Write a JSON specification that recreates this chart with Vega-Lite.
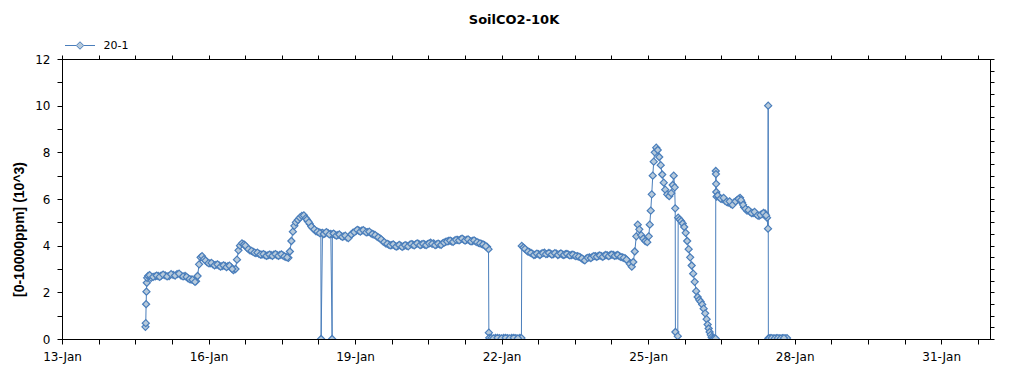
{
  "$schema": "https://vega.github.io/schema/vega-lite/v6.json",
  "width": 928,
  "height": 280,
  "autosize": "none",
  "padding": {"left": 62, "top": 59, "right": 34, "bottom": 36},
  "background": "white",
  "title": {"text": "SoilCO2-10K", "font": "DejaVu Sans", "fontSize": 13, "fontWeight": "bold", "color": "black", "anchor": "middle", "frame": "group", "dx": -12, "offset": 3},
  "config": {
    "view": {"stroke": "black", "strokeWidth": 1},
    "axis": {"domainColor": "black", "tickColor": "black", "labelColor": "black", "titleColor": "black", "labelFont": "DejaVu Sans", "labelFontSize": 12, "grid": false, "labelOverlap": false, "labelFlush": false}
  },
  "data": {"values": [
    {"t": "2020-01-14T17:00", "v": 0.52}, {"t": "2020-01-14T17:10", "v": 0.68}, {"t": "2020-01-14T17:20", "v": 1.49}, {"t": "2020-01-14T17:30", "v": 2.03}, {"t": "2020-01-14T17:40", "v": 2.41}, {"t": "2020-01-14T17:50", "v": 2.62},
    {"t": "2020-01-14T18:20", "v": 2.70}, {"t": "2020-01-14T19:48", "v": 2.62}, {"t": "2020-01-14T21:46", "v": 2.68}, {"t": "2020-01-14T23:14", "v": 2.70},
    {"t": "2020-01-15T00:43", "v": 2.72}, {"t": "2020-01-15T02:40", "v": 2.73}, {"t": "2020-01-15T04:38", "v": 2.70}, {"t": "2020-01-15T06:36", "v": 2.75}, {"t": "2020-01-15T08:33", "v": 2.78}, {"t": "2020-01-15T10:31", "v": 2.72}, {"t": "2020-01-15T12:29", "v": 2.70}, {"t": "2020-01-15T13:57", "v": 2.60}, {"t": "2020-01-15T15:25", "v": 2.55}, {"t": "2020-01-15T16:53", "v": 2.50}, {"t": "2020-01-15T17:52", "v": 2.48}, {"t": "2020-01-15T18:37", "v": 2.70}, {"t": "2020-01-15T19:21", "v": 3.20}, {"t": "2020-01-15T20:05", "v": 3.50}, {"t": "2020-01-15T20:49", "v": 3.55}, {"t": "2020-01-15T21:48", "v": 3.42}, {"t": "2020-01-15T23:16", "v": 3.30},
    {"t": "2020-01-16T00:44", "v": 3.24}, {"t": "2020-01-16T02:13", "v": 3.20}, {"t": "2020-01-16T03:41", "v": 3.18}, {"t": "2020-01-16T05:09", "v": 3.15}, {"t": "2020-01-16T06:38", "v": 3.12}, {"t": "2020-01-16T08:06", "v": 3.13}, {"t": "2020-01-16T09:34", "v": 3.12}, {"t": "2020-01-16T11:02", "v": 3.08}, {"t": "2020-01-16T12:16", "v": 2.95}, {"t": "2020-01-16T13:15", "v": 3.00}, {"t": "2020-01-16T13:59", "v": 3.40}, {"t": "2020-01-16T14:43", "v": 3.80}, {"t": "2020-01-16T15:28", "v": 4.00}, {"t": "2020-01-16T16:26", "v": 4.10}, {"t": "2020-01-16T17:25", "v": 4.05}, {"t": "2020-01-16T18:53", "v": 3.92}, {"t": "2020-01-16T20:22", "v": 3.80}, {"t": "2020-01-16T21:50", "v": 3.74}, {"t": "2020-01-16T23:18", "v": 3.68},
    {"t": "2020-01-17T00:47", "v": 3.65}, {"t": "2020-01-17T02:15", "v": 3.62}, {"t": "2020-01-17T03:43", "v": 3.60}, {"t": "2020-01-17T05:11", "v": 3.58}, {"t": "2020-01-17T06:40", "v": 3.60}, {"t": "2020-01-17T08:08", "v": 3.62}, {"t": "2020-01-17T09:36", "v": 3.60}, {"t": "2020-01-17T11:05", "v": 3.60}, {"t": "2020-01-17T12:33", "v": 3.58}, {"t": "2020-01-17T14:01", "v": 3.52}, {"t": "2020-01-17T15:15", "v": 3.48}, {"t": "2020-01-17T15:59", "v": 3.75}, {"t": "2020-01-17T16:43", "v": 4.20}, {"t": "2020-01-17T17:27", "v": 4.60}, {"t": "2020-01-17T18:11", "v": 4.85}, {"t": "2020-01-17T18:55", "v": 5.00}, {"t": "2020-01-17T19:54", "v": 5.10}, {"t": "2020-01-17T20:53", "v": 5.20}, {"t": "2020-01-17T21:52", "v": 5.28}, {"t": "2020-01-17T22:51", "v": 5.30}, {"t": "2020-01-17T23:50", "v": 5.18},
    {"t": "2020-01-18T00:49", "v": 5.05}, {"t": "2020-01-18T01:47", "v": 4.93}, {"t": "2020-01-18T03:16", "v": 4.75}, {"t": "2020-01-18T04:44", "v": 4.62}, {"t": "2020-01-18T06:12", "v": 4.58}, {"t": "2020-01-18T07:11", "v": 4.55}, {"t": "2020-01-18T07:20", "v": 0.00}, {"t": "2020-01-18T08:00", "v": 4.55}, {"t": "2020-01-18T09:09", "v": 4.52}, {"t": "2020-01-18T10:37", "v": 4.55}, {"t": "2020-01-18T12:05", "v": 4.50}, {"t": "2020-01-18T12:44", "v": 0.00}, {"t": "2020-01-18T12:50", "v": 4.48}, {"t": "2020-01-18T14:03", "v": 4.47}, {"t": "2020-01-18T15:32", "v": 4.45}, {"t": "2020-01-18T17:00", "v": 4.42}, {"t": "2020-01-18T18:28", "v": 4.40}, {"t": "2020-01-18T19:56", "v": 4.36}, {"t": "2020-01-18T21:25", "v": 4.40}, {"t": "2020-01-18T22:53", "v": 4.55},
    {"t": "2020-01-19T00:21", "v": 4.62}, {"t": "2020-01-19T01:49", "v": 4.65}, {"t": "2020-01-19T03:18", "v": 4.64}, {"t": "2020-01-19T04:46", "v": 4.62}, {"t": "2020-01-19T06:14", "v": 4.58}, {"t": "2020-01-19T07:43", "v": 4.54}, {"t": "2020-01-19T09:11", "v": 4.48}, {"t": "2020-01-19T10:39", "v": 4.40}, {"t": "2020-01-19T12:07", "v": 4.32}, {"t": "2020-01-19T13:35", "v": 4.20}, {"t": "2020-01-19T15:04", "v": 4.10}, {"t": "2020-01-19T16:32", "v": 4.05}, {"t": "2020-01-19T18:01", "v": 4.02}, {"t": "2020-01-19T19:29", "v": 4.00}, {"t": "2020-01-19T20:57", "v": 3.98}, {"t": "2020-01-19T22:25", "v": 4.00}, {"t": "2020-01-19T23:53", "v": 3.98},
    {"t": "2020-01-20T01:22", "v": 4.00}, {"t": "2020-01-20T02:50", "v": 4.03}, {"t": "2020-01-20T04:19", "v": 4.05}, {"t": "2020-01-20T05:47", "v": 4.06}, {"t": "2020-01-20T07:15", "v": 4.08}, {"t": "2020-01-20T08:43", "v": 4.05}, {"t": "2020-01-20T10:11", "v": 4.05}, {"t": "2020-01-20T11:40", "v": 4.07}, {"t": "2020-01-20T13:08", "v": 4.13}, {"t": "2020-01-20T14:37", "v": 4.10}, {"t": "2020-01-20T16:05", "v": 4.05}, {"t": "2020-01-20T17:33", "v": 4.06}, {"t": "2020-01-20T19:01", "v": 4.10}, {"t": "2020-01-20T20:29", "v": 4.16}, {"t": "2020-01-20T21:58", "v": 4.20}, {"t": "2020-01-20T23:26", "v": 4.18},
    {"t": "2020-01-21T00:55", "v": 4.22}, {"t": "2020-01-21T02:23", "v": 4.25}, {"t": "2020-01-21T03:51", "v": 4.27}, {"t": "2020-01-21T05:19", "v": 4.26}, {"t": "2020-01-21T06:47", "v": 4.25}, {"t": "2020-01-21T08:16", "v": 4.22}, {"t": "2020-01-21T09:44", "v": 4.20}, {"t": "2020-01-21T11:13", "v": 4.18}, {"t": "2020-01-21T12:41", "v": 4.12}, {"t": "2020-01-21T14:09", "v": 4.08}, {"t": "2020-01-21T15:37", "v": 4.02}, {"t": "2020-01-21T16:51", "v": 3.95}, {"t": "2020-01-21T17:35", "v": 3.85}, {"t": "2020-01-21T17:45", "v": 0.27}, {"t": "2020-01-21T17:55", "v": 0.05}, {"t": "2020-01-21T19:00", "v": 0.04}, {"t": "2020-01-21T21:00", "v": 0.05}, {"t": "2020-01-21T23:00", "v": 0.04},
    {"t": "2020-01-22T01:00", "v": 0.05}, {"t": "2020-01-22T03:00", "v": 0.04}, {"t": "2020-01-22T05:00", "v": 0.05}, {"t": "2020-01-22T07:00", "v": 0.04}, {"t": "2020-01-22T09:00", "v": 0.05}, {"t": "2020-01-22T09:45", "v": 0.04}, {"t": "2020-01-22T09:55", "v": 3.99}, {"t": "2020-01-22T10:45", "v": 3.92}, {"t": "2020-01-22T12:14", "v": 3.80}, {"t": "2020-01-22T13:42", "v": 3.72}, {"t": "2020-01-22T15:10", "v": 3.65}, {"t": "2020-01-22T16:38", "v": 3.62}, {"t": "2020-01-22T18:07", "v": 3.64}, {"t": "2020-01-22T19:35", "v": 3.66}, {"t": "2020-01-22T21:04", "v": 3.70}, {"t": "2020-01-22T22:32", "v": 3.65},
    {"t": "2020-01-23T00:00", "v": 3.66}, {"t": "2020-01-23T01:28", "v": 3.64}, {"t": "2020-01-23T02:56", "v": 3.66}, {"t": "2020-01-23T04:25", "v": 3.64}, {"t": "2020-01-23T05:53", "v": 3.62}, {"t": "2020-01-23T07:22", "v": 3.64}, {"t": "2020-01-23T08:50", "v": 3.62}, {"t": "2020-01-23T10:18", "v": 3.60}, {"t": "2020-01-23T11:46", "v": 3.58}, {"t": "2020-01-23T13:14", "v": 3.55}, {"t": "2020-01-23T14:43", "v": 3.50}, {"t": "2020-01-23T16:11", "v": 3.40}, {"t": "2020-01-23T17:39", "v": 3.45}, {"t": "2020-01-23T19:08", "v": 3.50}, {"t": "2020-01-23T20:36", "v": 3.52}, {"t": "2020-01-23T22:04", "v": 3.55}, {"t": "2020-01-23T23:32", "v": 3.56},
    {"t": "2020-01-24T01:01", "v": 3.55}, {"t": "2020-01-24T02:29", "v": 3.57}, {"t": "2020-01-24T03:57", "v": 3.58}, {"t": "2020-01-24T05:25", "v": 3.60}, {"t": "2020-01-24T06:53", "v": 3.60}, {"t": "2020-01-24T08:22", "v": 3.58}, {"t": "2020-01-24T09:50", "v": 3.55}, {"t": "2020-01-24T11:19", "v": 3.50}, {"t": "2020-01-24T12:47", "v": 3.45}, {"t": "2020-01-24T14:01", "v": 3.35}, {"t": "2020-01-24T14:59", "v": 3.22}, {"t": "2020-01-24T15:59", "v": 3.10}, {"t": "2020-01-24T16:43", "v": 3.30}, {"t": "2020-01-24T17:27", "v": 3.75}, {"t": "2020-01-24T18:11", "v": 4.40}, {"t": "2020-01-24T18:55", "v": 4.90}, {"t": "2020-01-24T19:40", "v": 4.70}, {"t": "2020-01-24T20:38", "v": 4.45}, {"t": "2020-01-24T21:37", "v": 4.30}, {"t": "2020-01-24T22:36", "v": 4.20}, {"t": "2020-01-24T23:35", "v": 4.15},
    {"t": "2020-01-25T00:19", "v": 4.40}, {"t": "2020-01-25T00:49", "v": 4.90}, {"t": "2020-01-25T01:18", "v": 5.50}, {"t": "2020-01-25T01:47", "v": 6.20}, {"t": "2020-01-25T02:17", "v": 7.00}, {"t": "2020-01-25T02:46", "v": 7.60}, {"t": "2020-01-25T03:16", "v": 8.00}, {"t": "2020-01-25T04:00", "v": 8.20}, {"t": "2020-01-25T04:44", "v": 8.10}, {"t": "2020-01-25T05:28", "v": 7.80}, {"t": "2020-01-25T06:12", "v": 7.45}, {"t": "2020-01-25T06:56", "v": 7.05}, {"t": "2020-01-25T07:41", "v": 6.70}, {"t": "2020-01-25T08:25", "v": 6.40}, {"t": "2020-01-25T09:23", "v": 6.20}, {"t": "2020-01-25T10:22", "v": 6.12}, {"t": "2020-01-25T11:21", "v": 6.25}, {"t": "2020-01-25T12:05", "v": 6.60}, {"t": "2020-01-25T12:35", "v": 7.00}, {"t": "2020-01-25T13:04", "v": 6.50}, {"t": "2020-01-25T13:19", "v": 5.60}, {"t": "2020-01-25T13:25", "v": 0.30}, {"t": "2020-01-25T14:35", "v": 0.12}, {"t": "2020-01-25T14:47", "v": 5.20}, {"t": "2020-01-25T15:31", "v": 5.12}, {"t": "2020-01-25T16:16", "v": 5.05}, {"t": "2020-01-25T17:00", "v": 4.95}, {"t": "2020-01-25T17:44", "v": 4.80}, {"t": "2020-01-25T18:28", "v": 4.55}, {"t": "2020-01-25T19:12", "v": 4.20}, {"t": "2020-01-25T19:56", "v": 3.85}, {"t": "2020-01-25T20:40", "v": 3.50}, {"t": "2020-01-25T21:25", "v": 3.15}, {"t": "2020-01-25T22:09", "v": 2.80}, {"t": "2020-01-25T22:53", "v": 2.45}, {"t": "2020-01-25T23:37", "v": 2.05},
    {"t": "2020-01-26T00:21", "v": 1.80}, {"t": "2020-01-26T01:05", "v": 1.68}, {"t": "2020-01-26T01:49", "v": 1.60}, {"t": "2020-01-26T02:34", "v": 1.48}, {"t": "2020-01-26T03:18", "v": 1.30}, {"t": "2020-01-26T04:02", "v": 1.10}, {"t": "2020-01-26T04:46", "v": 0.85}, {"t": "2020-01-26T05:16", "v": 0.62}, {"t": "2020-01-26T05:45", "v": 0.45}, {"t": "2020-01-26T06:14", "v": 0.30}, {"t": "2020-01-26T06:44", "v": 0.18}, {"t": "2020-01-26T07:13", "v": 0.08}, {"t": "2020-01-26T07:43", "v": 0.03}, {"t": "2020-01-26T08:27", "v": 0.02}, {"t": "2020-01-26T09:11", "v": 0.02}, {"t": "2020-01-26T09:15", "v": 7.20}, {"t": "2020-01-26T09:20", "v": 7.07}, {"t": "2020-01-26T09:25", "v": 6.65}, {"t": "2020-01-26T09:30", "v": 6.30}, {"t": "2020-01-26T09:40", "v": 6.10}, {"t": "2020-01-26T10:53", "v": 6.08}, {"t": "2020-01-26T12:22", "v": 6.00}, {"t": "2020-01-26T13:50", "v": 5.92}, {"t": "2020-01-26T15:19", "v": 5.85}, {"t": "2020-01-26T16:47", "v": 5.78}, {"t": "2020-01-26T18:15", "v": 5.85}, {"t": "2020-01-26T19:43", "v": 5.95}, {"t": "2020-01-26T21:11", "v": 6.05}, {"t": "2020-01-26T22:10", "v": 5.85}, {"t": "2020-01-26T23:09", "v": 5.65},
    {"t": "2020-01-27T00:37", "v": 5.50}, {"t": "2020-01-27T02:05", "v": 5.45}, {"t": "2020-01-27T03:34", "v": 5.40}, {"t": "2020-01-27T05:02", "v": 5.35}, {"t": "2020-01-27T06:30", "v": 5.28}, {"t": "2020-01-27T07:58", "v": 5.35}, {"t": "2020-01-27T09:27", "v": 5.38}, {"t": "2020-01-27T10:26", "v": 5.20}, {"t": "2020-01-27T10:55", "v": 4.73}, {"t": "2020-01-27T11:00", "v": 10.00}, {"t": "2020-01-27T11:05", "v": 0.03}, {"t": "2020-01-27T12:00", "v": 0.04}, {"t": "2020-01-27T13:30", "v": 0.03}, {"t": "2020-01-27T15:00", "v": 0.04}, {"t": "2020-01-27T16:30", "v": 0.03}, {"t": "2020-01-27T18:00", "v": 0.04}, {"t": "2020-01-27T19:30", "v": 0.03}, {"t": "2020-01-27T20:15", "v": 0.04},
    {"t": "2020-01-14T19:04", "v": 2.74}, {"t": "2020-01-14T20:47", "v": 2.66}, {"t": "2020-01-14T22:30", "v": 2.72}, {"t": "2020-01-15T00:00", "v": 2.66}, {"t": "2020-01-15T01:41", "v": 2.76}, {"t": "2020-01-15T03:39", "v": 2.68}, {"t": "2020-01-15T05:37", "v": 2.78}, {"t": "2020-01-15T07:34", "v": 2.72}, {"t": "2020-01-15T09:32", "v": 2.80}, {"t": "2020-01-15T11:30", "v": 2.68}, {"t": "2020-01-15T13:13", "v": 2.66}, {"t": "2020-01-15T14:41", "v": 2.57}, {"t": "2020-01-15T16:09", "v": 2.54}, {"t": "2020-01-15T17:22", "v": 2.45},
    {"t": "2020-01-15T22:32", "v": 3.36}, {"t": "2020-01-16T00:00", "v": 3.25}, {"t": "2020-01-16T01:28", "v": 3.26}, {"t": "2020-01-16T02:57", "v": 3.16}, {"t": "2020-01-16T04:25", "v": 3.20}, {"t": "2020-01-16T05:53", "v": 3.10}, {"t": "2020-01-16T07:22", "v": 3.16}, {"t": "2020-01-16T08:50", "v": 3.08}, {"t": "2020-01-16T10:18", "v": 3.14}, {"t": "2020-01-16T11:40", "v": 3.00},
    {"t": "2020-01-16T18:09", "v": 4.00}, {"t": "2020-01-16T19:37", "v": 3.85}, {"t": "2020-01-16T21:06", "v": 3.78}, {"t": "2020-01-16T22:34", "v": 3.70}, {"t": "2020-01-17T00:02", "v": 3.70}, {"t": "2020-01-17T01:31", "v": 3.62}, {"t": "2020-01-17T02:59", "v": 3.64}, {"t": "2020-01-17T04:27", "v": 3.56}, {"t": "2020-01-17T05:55", "v": 3.62}, {"t": "2020-01-17T07:24", "v": 3.56}, {"t": "2020-01-17T08:52", "v": 3.64}, {"t": "2020-01-17T10:20", "v": 3.56}, {"t": "2020-01-17T11:49", "v": 3.63}, {"t": "2020-01-17T13:17", "v": 3.54}, {"t": "2020-01-17T14:38", "v": 3.50},
    {"t": "2020-01-18T00:20", "v": 5.12}, {"t": "2020-01-18T01:18", "v": 5.00}, {"t": "2020-01-18T02:31", "v": 4.82}, {"t": "2020-01-18T04:00", "v": 4.70}, {"t": "2020-01-18T05:28", "v": 4.60}, {"t": "2020-01-18T06:42", "v": 4.54}, {"t": "2020-01-18T08:35", "v": 4.50}, {"t": "2020-01-18T09:53", "v": 4.58}, {"t": "2020-01-18T11:21", "v": 4.48},
    {"t": "2020-01-18T13:27", "v": 4.52}, {"t": "2020-01-18T14:48", "v": 4.43}, {"t": "2020-01-18T16:16", "v": 4.48}, {"t": "2020-01-18T17:44", "v": 4.38}, {"t": "2020-01-18T19:12", "v": 4.43}, {"t": "2020-01-18T20:41", "v": 4.32}, {"t": "2020-01-18T22:09", "v": 4.48}, {"t": "2020-01-18T23:37", "v": 4.58}, {"t": "2020-01-19T01:05", "v": 4.68}, {"t": "2020-01-19T02:34", "v": 4.60}, {"t": "2020-01-19T04:02", "v": 4.67}, {"t": "2020-01-19T05:30", "v": 4.57}, {"t": "2020-01-19T06:59", "v": 4.60}, {"t": "2020-01-19T08:27", "v": 4.50}, {"t": "2020-01-19T09:55", "v": 4.45}, {"t": "2020-01-19T11:23", "v": 4.36}, {"t": "2020-01-19T12:51", "v": 4.27}, {"t": "2020-01-19T14:20", "v": 4.15},
    {"t": "2020-01-19T15:48", "v": 4.08}, {"t": "2020-01-19T17:16", "v": 4.01}, {"t": "2020-01-19T18:45", "v": 4.06}, {"t": "2020-01-19T20:13", "v": 3.96}, {"t": "2020-01-19T21:41", "v": 4.03}, {"t": "2020-01-19T23:09", "v": 3.95}, {"t": "2020-01-20T00:37", "v": 4.02}, {"t": "2020-01-20T02:06", "v": 3.97}, {"t": "2020-01-20T03:34", "v": 4.07}, {"t": "2020-01-20T05:03", "v": 4.01}, {"t": "2020-01-20T06:31", "v": 4.10}, {"t": "2020-01-20T07:59", "v": 4.02}, {"t": "2020-01-20T09:27", "v": 4.08}, {"t": "2020-01-20T10:55", "v": 4.02}, {"t": "2020-01-20T12:24", "v": 4.10}, {"t": "2020-01-20T13:52", "v": 4.08}, {"t": "2020-01-20T15:21", "v": 4.02}, {"t": "2020-01-20T16:49", "v": 4.09}, {"t": "2020-01-20T18:17", "v": 4.03}, {"t": "2020-01-20T19:45", "v": 4.13}, {"t": "2020-01-20T21:13", "v": 4.18}, {"t": "2020-01-20T22:42", "v": 4.22}, {"t": "2020-01-21T00:10", "v": 4.16}, {"t": "2020-01-21T01:39", "v": 4.25}, {"t": "2020-01-21T03:07", "v": 4.23}, {"t": "2020-01-21T04:35", "v": 4.30}, {"t": "2020-01-21T06:03", "v": 4.22}, {"t": "2020-01-21T07:31", "v": 4.27}, {"t": "2020-01-21T09:00", "v": 4.18}, {"t": "2020-01-21T10:28", "v": 4.23}, {"t": "2020-01-21T11:57", "v": 4.15}, {"t": "2020-01-21T13:25", "v": 4.10}, {"t": "2020-01-21T14:53", "v": 4.05}, {"t": "2020-01-21T16:14", "v": 3.98},
    {"t": "2020-01-21T20:00", "v": 0.03}, {"t": "2020-01-21T22:00", "v": 0.05}, {"t": "2020-01-22T00:00", "v": 0.03}, {"t": "2020-01-22T02:00", "v": 0.05}, {"t": "2020-01-22T04:00", "v": 0.03}, {"t": "2020-01-22T06:00", "v": 0.05}, {"t": "2020-01-22T08:00", "v": 0.03},
    {"t": "2020-01-22T11:30", "v": 3.86}, {"t": "2020-01-22T12:58", "v": 3.75}, {"t": "2020-01-22T14:26", "v": 3.69}, {"t": "2020-01-22T15:54", "v": 3.60}, {"t": "2020-01-22T17:22", "v": 3.66}, {"t": "2020-01-22T18:51", "v": 3.60}, {"t": "2020-01-22T20:19", "v": 3.68}, {"t": "2020-01-22T21:48", "v": 3.64}, {"t": "2020-01-22T23:16", "v": 3.69}, {"t": "2020-01-23T00:44", "v": 3.62}, {"t": "2020-01-23T02:12", "v": 3.68}, {"t": "2020-01-23T03:40", "v": 3.60}, {"t": "2020-01-23T05:09", "v": 3.67}, {"t": "2020-01-23T06:37", "v": 3.60}, {"t": "2020-01-23T08:06", "v": 3.65}, {"t": "2020-01-23T09:34", "v": 3.58}, {"t": "2020-01-23T11:02", "v": 3.62}, {"t": "2020-01-23T12:30", "v": 3.55}, {"t": "2020-01-23T13:58", "v": 3.53}, {"t": "2020-01-23T15:27", "v": 3.46}, {"t": "2020-01-23T16:55", "v": 3.37}, {"t": "2020-01-23T18:23", "v": 3.48}, {"t": "2020-01-23T19:52", "v": 3.47}, {"t": "2020-01-23T21:20", "v": 3.55}, {"t": "2020-01-23T22:48", "v": 3.52}, {"t": "2020-01-24T00:16", "v": 3.58}, {"t": "2020-01-24T01:45", "v": 3.52}, {"t": "2020-01-24T03:13", "v": 3.60}, {"t": "2020-01-24T04:41", "v": 3.55}, {"t": "2020-01-24T06:09", "v": 3.62}, {"t": "2020-01-24T07:37", "v": 3.56}, {"t": "2020-01-24T09:06", "v": 3.60}, {"t": "2020-01-24T10:34", "v": 3.52}, {"t": "2020-01-24T12:03", "v": 3.48}, {"t": "2020-01-24T13:24", "v": 3.40},
    {"t": "2020-01-26T10:15", "v": 6.15}, {"t": "2020-01-26T11:37", "v": 6.02}, {"t": "2020-01-26T13:06", "v": 6.05}, {"t": "2020-01-26T14:34", "v": 5.88}, {"t": "2020-01-26T16:03", "v": 5.90}, {"t": "2020-01-26T17:31", "v": 5.75}, {"t": "2020-01-26T18:59", "v": 5.90}, {"t": "2020-01-26T20:27", "v": 6.00}, {"t": "2020-01-26T21:40", "v": 5.95}, {"t": "2020-01-26T22:40", "v": 5.75}, {"t": "2020-01-26T23:53", "v": 5.58}, {"t": "2020-01-27T01:21", "v": 5.52}, {"t": "2020-01-27T02:49", "v": 5.40}, {"t": "2020-01-27T04:18", "v": 5.45}, {"t": "2020-01-27T05:46", "v": 5.30}, {"t": "2020-01-27T07:14", "v": 5.32}, {"t": "2020-01-27T08:42", "v": 5.40}, {"t": "2020-01-27T09:57", "v": 5.30},
    {"t": "2020-01-27T11:30", "v": 0.03}, {"t": "2020-01-27T12:45", "v": 0.04}, {"t": "2020-01-27T14:15", "v": 0.03}, {"t": "2020-01-27T15:45", "v": 0.04}, {"t": "2020-01-27T17:15", "v": 0.03}, {"t": "2020-01-27T18:45", "v": 0.04}
  ]},
  "layer": [
    {
      "mark": {"type": "line", "strokeWidth": 1, "clip": true},
      "encoding": {
        "x": {"field": "t", "type": "temporal",
          "scale": {"domain": [{"year": 2020, "month": "jan", "date": 13}, {"year": 2020, "month": "feb", "date": 1}]},
          "axis": {"orient": "bottom", "title": null, "tickSize": 5, "labelPadding": 7,
            "values": [
              {"year": 2020, "month": "jan", "date": 13, "hours": 0}, {"year": 2020, "month": "jan", "date": 13, "hours": 18}, {"year": 2020, "month": "jan", "date": 14, "hours": 12}, {"year": 2020, "month": "jan", "date": 15, "hours": 6},
              {"year": 2020, "month": "jan", "date": 16, "hours": 0}, {"year": 2020, "month": "jan", "date": 16, "hours": 18}, {"year": 2020, "month": "jan", "date": 17, "hours": 12}, {"year": 2020, "month": "jan", "date": 18, "hours": 6},
              {"year": 2020, "month": "jan", "date": 19, "hours": 0}, {"year": 2020, "month": "jan", "date": 19, "hours": 18}, {"year": 2020, "month": "jan", "date": 20, "hours": 12}, {"year": 2020, "month": "jan", "date": 21, "hours": 6},
              {"year": 2020, "month": "jan", "date": 22, "hours": 0}, {"year": 2020, "month": "jan", "date": 22, "hours": 18}, {"year": 2020, "month": "jan", "date": 23, "hours": 12}, {"year": 2020, "month": "jan", "date": 24, "hours": 6},
              {"year": 2020, "month": "jan", "date": 25, "hours": 0}, {"year": 2020, "month": "jan", "date": 25, "hours": 18}, {"year": 2020, "month": "jan", "date": 26, "hours": 12}, {"year": 2020, "month": "jan", "date": 27, "hours": 6},
              {"year": 2020, "month": "jan", "date": 28, "hours": 0}, {"year": 2020, "month": "jan", "date": 28, "hours": 18}, {"year": 2020, "month": "jan", "date": 29, "hours": 12}, {"year": 2020, "month": "jan", "date": 30, "hours": 6},
              {"year": 2020, "month": "jan", "date": 31, "hours": 0}, {"year": 2020, "month": "jan", "date": 31, "hours": 18}
            ],
            "labelExpr": "hours(datum.value) === 0 && (date(datum.value) - 13) % 3 === 0 ? timeFormat(datum.value, '%d-%b') : ''",
            "encode": {"ticks": {"update": {
              "y": {"signal": "hours(datum.value) === 0 && (date(datum.value) - 13) % 3 === 0 ? -5 : -3"},
              "y2": {"signal": "hours(datum.value) === 0 && (date(datum.value) - 13) % 3 === 0 ? 5 : 3"}
            }}}
          }
        },
        "y": {"field": "v", "type": "quantitative",
          "scale": {"domain": [0, 12], "nice": false, "zero": true},
          "axis": {"orient": "left", "title": "[0-10000ppm] (10^3)", "titleFont": "Liberation Sans", "titleFontSize": 14, "titleFontWeight": "bold", "titlePadding": 8, "titleY": 170,
            "tickSize": 5, "labelPadding": 7, "format": "d",
            "values": [0, 0.5, 1, 1.5, 2, 2.5, 3, 3.5, 4, 4.5, 5, 5.5, 6, 6.5, 7, 7.5, 8, 8.5, 9, 9.5, 10, 10.5, 11, 11.5, 12],
            "labelExpr": "datum.value % 2 === 0 ? datum.label : ''",
            "encode": {"ticks": {"update": {
              "x": {"signal": "datum.value % 2 === 0 ? 5 : 3"},
              "x2": {"signal": "datum.value % 2 === 0 ? -5 : -3"}
            }}}
          }
        },
        "color": {"datum": "20-1", "scale": {"domain": ["20-1"], "range": ["#4a7ebb"]},
          "legend": {"orient": "none", "legendX": 2.5, "legendY": -29, "title": null, "labelFont": "DejaVu Sans", "labelFontSize": 11, "labelColor": "black", "labelOffset": 8,
            "symbolType": "M-1,0L-0.25,0M0.25,0L1,0M-0.25,0L0,-0.25L0.25,0L0,0.25Z", "symbolSize": 900,
            "encode": {"symbols": {"update": {"fill": {"value": "#b7cadb"}, "stroke": {"value": "#4a7ebb"}, "strokeWidth": {"value": 1}, "opacity": {"value": 1}}}}
          }
        }
      }
    },
    {
      "mark": {"type": "point", "shape": "diamond", "size": 50, "filled": true, "fill": "#b7cadb", "stroke": "#4a7ebb", "strokeWidth": 1.2, "opacity": 1, "clip": true},
      "encoding": {
        "x": {"field": "t", "type": "temporal",
          "axis": {"orient": "top", "title": null, "labels": false, "tickSize": 4,
            "values": [
              {"year": 2020, "month": "jan", "date": 13, "hours": 0}, {"year": 2020, "month": "jan", "date": 13, "hours": 18}, {"year": 2020, "month": "jan", "date": 14, "hours": 12}, {"year": 2020, "month": "jan", "date": 15, "hours": 6},
              {"year": 2020, "month": "jan", "date": 16, "hours": 0}, {"year": 2020, "month": "jan", "date": 16, "hours": 18}, {"year": 2020, "month": "jan", "date": 17, "hours": 12}, {"year": 2020, "month": "jan", "date": 18, "hours": 6},
              {"year": 2020, "month": "jan", "date": 19, "hours": 0}, {"year": 2020, "month": "jan", "date": 19, "hours": 18}, {"year": 2020, "month": "jan", "date": 20, "hours": 12}, {"year": 2020, "month": "jan", "date": 21, "hours": 6},
              {"year": 2020, "month": "jan", "date": 22, "hours": 0}, {"year": 2020, "month": "jan", "date": 22, "hours": 18}, {"year": 2020, "month": "jan", "date": 23, "hours": 12}, {"year": 2020, "month": "jan", "date": 24, "hours": 6},
              {"year": 2020, "month": "jan", "date": 25, "hours": 0}, {"year": 2020, "month": "jan", "date": 25, "hours": 18}, {"year": 2020, "month": "jan", "date": 26, "hours": 12}, {"year": 2020, "month": "jan", "date": 27, "hours": 6},
              {"year": 2020, "month": "jan", "date": 28, "hours": 0}, {"year": 2020, "month": "jan", "date": 28, "hours": 18}, {"year": 2020, "month": "jan", "date": 29, "hours": 12}, {"year": 2020, "month": "jan", "date": 30, "hours": 6},
              {"year": 2020, "month": "jan", "date": 31, "hours": 0}, {"year": 2020, "month": "jan", "date": 31, "hours": 18}
            ],
            "encode": {"ticks": {"update": {
              "y": {"value": 0},
              "y2": {"signal": "hours(datum.value) === 0 && (date(datum.value) - 13) % 3 === 0 ? 4 : 3"}
            }}}
          }
        },
        "y": {"field": "v", "type": "quantitative",
          "axis": {"orient": "right", "title": null, "labels": false, "tickSize": 4,
            "values": [0, 0.5, 1, 1.5, 2, 2.5, 3, 3.5, 4, 4.5, 5, 5.5, 6, 6.5, 7, 7.5, 8, 8.5, 9, 9.5, 10, 10.5, 11, 11.5, 12],
            "encode": {"ticks": {"update": {
              "x": {"value": 0},
              "x2": {"signal": "datum.value % 2 === 0 ? -4 : -3"}
            }}}
          }
        }
      }
    }
  ],
  "resolve": {"axis": {"x": "independent", "y": "independent"}}
}
